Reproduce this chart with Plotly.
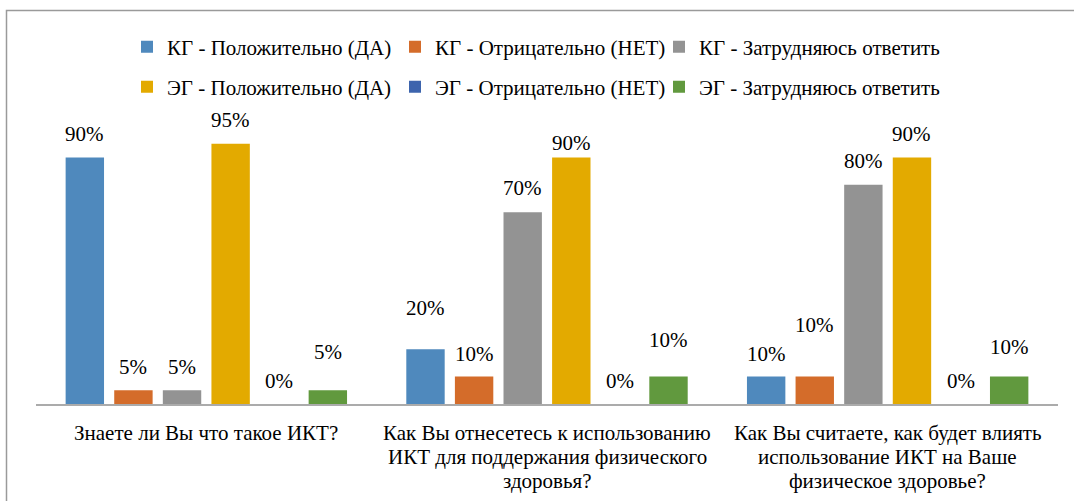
import plotly.graph_objects as go

categories = [
    "Знаете ли Вы что такое ИКТ?",
    "Как Вы отнесетесь к использованию<br>ИКТ для поддержания физического<br>здоровья?",
    "Как Вы считаете, как будет влиять<br>использование ИКТ на Ваше<br>физическое здоровье?",
]
series_names = [
    "КГ - Положительно (ДА)",
    "КГ - Отрицательно (НЕТ)",
    "КГ - Затрудняюсь ответить",
    "ЭГ - Положительно (ДА)",
    "ЭГ - Отрицательно (НЕТ)",
    "ЭГ - Затрудняюсь ответить",
]
kg_yes = [90, 20, 10]
kg_no = [5, 10, 10]
kg_hard = [5, 70, 80]
eg_yes = [95, 90, 90]
eg_no = [0, 0, 0]
eg_hard = [5, 10, 10]
values = [kg_yes, kg_no, kg_hard, eg_yes, eg_no, eg_hard]

# style: colours, label offsets (px above bar top), legend slots (text-start px, row-centre px)
colors = ["#4F89BD", "#D46C2A", "#939393", "#E3AA00", "#3D64AD", "#61993E"]
label_shift = [
    [23, 41, 23],
    [23, 23, 52],
    [23, 24, 24],
    [24, 14, 23],
    [23, 23, 23],
    [38, 37, 30],
]
legend_text_x = [167, 435, 699, 167, 435, 699]
legend_row_y = [47, 47, 47, 87, 87, 87]
cat_label_first_line = 29   # px below axis to first line centre
cat_label_line_step = 24    # px between lines

FONT = "Liberation Serif, Times New Roman, serif"
FS = 21
BARGAP = 0.144
BARGROUPGAP = 0.21

L, R, T, B = 36, 16, 130, 97
W, H = 1074, 501
pw, ph = W - L - R, H - T - B


def px_x(px):
    return (px - L) / pw


def px_y(py):
    return (H - B - py) / ph


fig = go.Figure()
legend_layouts = {}
for j, (name, vals) in enumerate(zip(series_names, values)):
    key = "legend" if j == 0 else f"legend{j + 1}"
    fig.add_trace(go.Bar(
        x=categories, y=vals, name=name, showlegend=True,
        marker=dict(color=colors[j], line=dict(width=0)),
        legend=key,
    ))
    legend_layouts[key] = dict(
        orientation="h", xanchor="left", yanchor="middle",
        x=px_x(legend_text_x[j] - 40), y=px_y(legend_row_y[j]),
        font=dict(family=FONT, size=FS, color="#000000"),
        bgcolor="rgba(0,0,0,0)", itemclick=False, itemdoubleclick=False,
        visible=True,
    )

slot = (1 - BARGAP) / len(series_names)
for j, vals in enumerate(values):
    for i, v in enumerate(vals):
        fig.add_annotation(
            x=i + (j - (len(series_names) - 1) / 2) * slot, y=v,
            xref="x", yref="y", text=f"{v}%", showarrow=False,
            yanchor="middle", yshift=label_shift[j][i],
            font=dict(family=FONT, size=FS, color="#000000"),
        )

# category labels, one annotation per text line
for i, cat in enumerate(categories):
    for k, line in enumerate(cat.split("<br>")):
        fig.add_annotation(
            x=cat, y=0, xref="x", yref="y", text=line, showarrow=False,
            xanchor="center", yanchor="middle",
            yshift=-(cat_label_first_line + k * cat_label_line_step),
            font=dict(family=FONT, size=FS, color="#000000"),
        )

fig.add_shape(type="rect", xref="paper", yref="paper",
              x0=px_x(6.5), x1=px_x(1085), y0=px_y(515), y1=px_y(10.5),
              line=dict(color="#9A9A9A", width=1.5), layer="below")

fig.update_layout(
    width=W, height=H,
    margin=dict(l=L, r=R, t=T, b=B, autoexpand=False),
    barmode="group", bargap=BARGAP, bargroupgap=BARGROUPGAP,
    plot_bgcolor="white", paper_bgcolor="white",
    font=dict(family=FONT, size=FS, color="#000000"),
    showlegend=True,
    xaxis=dict(showline=True, linecolor="#ABABAB", linewidth=1.5,
               ticks="", showticklabels=False, automargin=False),
    yaxis=dict(range=[0, 100], visible=False, showgrid=False, zeroline=False,
               automargin=False),
    **legend_layouts,
)

fig.write_html(
    "out.html", config={"displayModeBar": False},
    post_script="document.body.style.margin='0';document.body.style.overflow='hidden';",
)
